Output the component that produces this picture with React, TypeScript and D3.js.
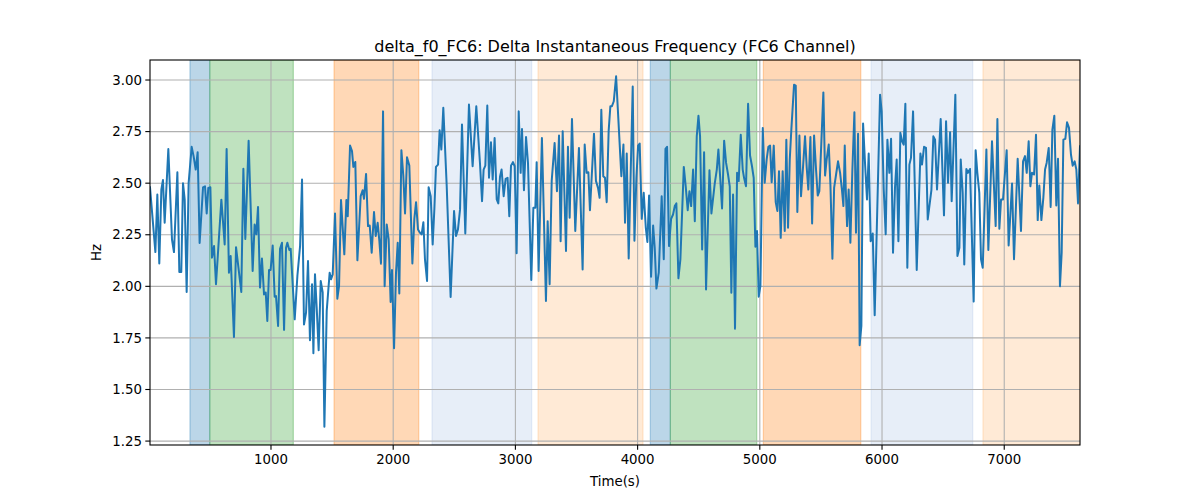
import React from "react";
import * as d3 from "d3";

const TITLE = "delta_f0_FC6: Delta Instantaneous Frequency (FC6 Channel)";
const X_LABEL = "Time(s)";
const Y_LABEL = "Hz";
const X_TICKS = [1000, 2000, 3000, 4000, 5000, 6000, 7000];
const Y_TICKS = [1.25, 1.5, 1.75, 2.0, 2.25, 2.5, 2.75, 3.0];
const X_DOMAIN = [10, 7620];
const Y_DOMAIN = [1.231, 3.097];

// shaded segments: [start, end, colour]
const BAND_START = [337, 499, 1516, 2318, 3185, 4104, 4268, 5029, 5911, 6826];
const BAND_END = [499, 1183, 2209, 3133, 4044, 4268, 4975, 5826, 6742, 7620];
const BAND_COLOR = ["#1f77b4", "#2ca02c", "#ff7f0e", "#aec7e8", "#ffbb78", "#1f77b4", "#2ca02c", "#ff7f0e", "#aec7e8", "#ffbb78"];

const TIMES = [
  10, 54, 70, 86, 103, 116, 130, 160, 190, 206, 234, 250, 266, 280, 294, 310, 326, 351, 367, 384, 400, 416, 444, 460, 474, 487, 504, 517, 534, 550, 594, 621, 637, 656, 670, 697, 714, 757, 774, 790, 817, 850, 866, 880, 894, 910, 926, 943,
  957, 970, 984, 997, 1014, 1030, 1041, 1058, 1074, 1090, 1107, 1123, 1134, 1150, 1161, 1194, 1216, 1238, 1254, 1270, 1287, 1303, 1319, 1336, 1347, 1360, 1374, 1390, 1407, 1423, 1437, 1456, 1480, 1491, 1505, 1524, 1543, 1557, 1573, 1600, 1617, 1628, 1647, 1663, 1674, 1690, 1707, 1734, 1750, 1761, 1778, 1794, 1808, 1824, 1843, 1857, 1873, 1887, 1900,
  1917, 1930, 1947, 1963, 1979, 1990, 2007, 2023, 2037, 2050, 2067, 2083, 2097, 2113, 2132, 2157, 2173, 2187, 2203, 2219, 2233, 2247, 2260, 2277, 2290, 2307, 2323, 2337, 2350, 2367, 2380, 2394, 2410, 2438, 2470, 2498, 2514, 2530, 2547, 2563, 2590, 2620, 2650, 2680, 2710, 2727, 2740, 2754, 2770, 2784, 2800, 2814, 2830, 2847,
  2860, 2874, 2887, 2904, 2920, 2936, 2950, 2964, 2980, 2994, 3010, 3027, 3043, 3054, 3070, 3087, 3103, 3130, 3147, 3163, 3174, 3190, 3217, 3250, 3264, 3280, 3297, 3321, 3340, 3357, 3370, 3387, 3414, 3430, 3444, 3463, 3490, 3520, 3550, 3567, 3583, 3597, 3610, 3643, 3659, 3676, 3689, 3703, 3719, 3733, 3747, 3763, 3777, 3790,
  3805, 3824, 3867, 3884, 3897, 3911, 3927, 3960, 3974, 3990, 4004, 4017, 4034, 4050, 4067, 4080, 4094, 4110, 4127, 4140, 4154, 4173, 4197, 4214, 4228, 4241, 4257, 4274, 4290, 4304, 4317, 4334, 4350, 4378, 4394, 4410, 4424, 4438, 4454, 4468, 4484, 4498, 4511, 4528, 4544, 4560, 4588, 4604, 4631, 4648, 4661, 4675, 4691, 4708, 4724, 4740,
  4754, 4767, 4781, 4797, 4814, 4827, 4844, 4860, 4871, 4887, 4904, 4920, 4936, 4950, 4964, 4977, 4991, 5005, 5024, 5040, 5056, 5070, 5084, 5097, 5114, 5130, 5144, 5157, 5171, 5187, 5204, 5217, 5231, 5245, 5258, 5280, 5294, 5307, 5324, 5337, 5354, 5370, 5384, 5397, 5414, 5428, 5444, 5460, 5474, 5487, 5504, 5520, 5534, 5547, 5564, 5578, 5594, 5608, 5624, 5640, 5657, 5673, 5684, 5695,
  5703, 5714, 5727, 5741, 5757, 5774, 5787, 5804, 5817, 5831, 5845, 5861, 5877, 5891, 5907, 5924, 5940, 5984, 5997, 6014, 6030, 6044, 6060, 6074, 6090, 6106, 6120, 6134, 6150, 6164, 6177, 6191, 6207, 6224, 6237, 6254, 6284, 6314, 6327, 6344, 6360, 6374, 6404, 6420, 6434, 6450, 6480, 6507, 6524, 6540, 6557, 6570, 6600, 6617, 6633, 6644,
  6660, 6673, 6690, 6703, 6720, 6750, 6766, 6780, 6796, 6810, 6824, 6854, 6870, 6900, 6930, 6944, 6960, 6974, 6990, 7020, 7036, 7064, 7080, 7110, 7137, 7154, 7170, 7184, 7200, 7214, 7227, 7244, 7260, 7274, 7287, 7304, 7320, 7334, 7347, 7364, 7380, 7394, 7410, 7426, 7440, 7456, 7470, 7484, 7500, 7514, 7530, 7546, 7560, 7576, 7590, 7604, 7620,
];

const HZ = [
  2.48, 2.166, 2.445, 2.111, 2.47, 2.515, 2.308, 2.666, 2.227, 2.166, 2.553, 2.069, 2.069, 2.5, 2.42, 1.973, 2.5, 2.676, 2.63, 2.566, 2.65, 2.21, 2.48, 2.485, 2.353, 2.477, 2.48, 2.139, 2.195, 2.01, 2.42, 2.203, 2.666, 2.066, 2.147, 1.755, 2.19, 1.973, 2.57, 2.23, 2.706, 2.074, 2.3, 2.252, 2.385, 1.994, 2.135, 1.961,
  1.97, 1.832, 2.079, 2.079, 2.198, 1.95, 1.953, 1.808, 2.182, 2.211, 1.789, 2.187, 2.211, 2.176, 2.182, 1.84, 2.05, 2.195, 2.518, 1.815, 1.873, 2.123, 1.739, 2.01, 1.676, 2.058, 1.897, 1.69, 2.026, 1.97, 1.32, 1.881, 2.066, 2.034, 2.058, 2.353, 1.94, 2.002, 2.418, 2.155, 2.418, 2.34, 2.682, 2.655, 2.579, 2.603, 2.126, 2.437, 2.466, 2.424, 2.545, 2.292, 2.295, 2.163, 2.36, 2.244, 2.308, 2.219, 2.11,
  2.848, 2.0, 2.3, 2.227, 1.924, 2.079, 1.7, 2.066, 2.211, 1.965, 2.66, 2.534, 2.353, 2.626, 2.585, 2.111, 2.327, 2.408, 2.276, 2.26, 2.252, 2.311, 2.131, 2.026, 2.48, 2.437, 2.203, 2.376, 2.579, 2.59, 2.756, 2.663, 2.865, 2.485, 1.948, 2.365, 2.244, 2.276, 2.373, 2.784, 2.256, 2.881, 2.582, 2.873, 2.598, 2.413, 2.566, 2.585, 2.876, 2.526, 2.698, 2.518, 2.719, 2.421,
  2.402, 2.531, 2.566, 2.437, 2.521, 2.526, 2.34, 2.585, 2.602, 2.582, 2.16, 2.848, 2.55, 2.763, 2.466, 2.724, 2.598, 2.031, 2.381, 2.381, 2.602, 2.074, 2.719, 1.929, 2.316, 2.01, 2.511, 2.695, 2.461, 2.731, 2.219, 2.752, 2.171, 2.676, 2.332, 2.811, 2.268, 2.671, 2.082, 2.687, 2.55, 2.553, 2.369, 2.74, 2.511, 2.477, 2.429, 2.856, 2.534, 2.526, 2.408, 2.752, 2.873, 2.873,
  2.897, 3.018, 2.534, 2.687, 2.308, 2.644, 2.135, 2.969, 2.221, 2.526, 2.682, 2.692, 2.327, 2.453, 2.284, 2.215, 2.44, 2.047, 2.295, 2.187, 1.989, 2.066, 2.437, 2.131, 2.666, 2.676, 2.195, 2.327, 2.348, 2.389, 2.402, 2.039, 2.131, 2.579, 2.482, 2.369, 2.461, 2.389, 2.566, 2.316, 2.727, 2.827, 2.727, 2.179, 2.65, 1.985, 2.563, 2.353, 2.498, 2.566, 2.663, 2.534, 2.377, 2.706, 2.598, 2.542,
  2.485, 1.969, 2.445, 1.795, 2.55, 2.51, 2.735, 2.566, 2.526, 2.485, 2.885, 2.634, 2.582, 2.526, 2.192, 2.268, 1.95, 2.002, 2.768, 2.502, 2.615, 2.676, 2.682, 2.505, 2.682, 2.408, 2.365, 2.558, 2.235, 2.558, 2.268, 2.711, 2.284, 2.615, 2.76, 2.977, 2.973, 2.36, 2.731, 2.437, 2.582, 2.727, 2.574, 2.469, 2.724, 2.305, 2.731, 2.566, 2.44, 2.461, 2.706, 2.94, 2.537, 2.615, 2.687, 2.489, 2.134, 2.477, 2.542, 2.606, 2.55, 2.461, 2.389, 2.682,
  2.477, 2.292, 2.469, 2.211, 2.558, 2.844, 2.26, 2.74, 1.715, 1.808, 2.789, 2.595, 2.421, 2.644, 2.219, 2.256, 1.86, 2.929, 2.848, 2.469, 2.252, 2.711, 2.55, 2.715, 2.163, 2.477, 2.615, 2.219, 2.744, 2.703, 2.687, 2.885, 2.09, 2.59, 2.623, 2.848, 2.079, 2.644, 2.59, 2.676, 2.671, 2.324, 2.466, 2.727, 2.711, 2.469, 2.811, 2.344, 2.8, 2.502, 2.747, 2.413, 2.929, 2.147, 2.187, 2.615,
  2.453, 2.106, 2.569, 2.55, 2.569, 1.926, 2.66, 2.55, 2.453, 2.131, 2.09, 2.663, 2.176, 2.703, 2.292, 2.811, 2.279, 2.421, 2.421, 2.66, 2.198, 2.498, 2.131, 2.618, 2.268, 2.606, 2.631, 2.55, 2.703, 2.485, 2.55, 2.542, 2.735, 2.321, 2.489, 2.321, 2.429, 2.566, 2.598, 2.671, 2.385, 2.76, 2.827, 2.392, 2.618, 2.0, 2.163, 2.711, 2.715, 2.795, 2.768, 2.639, 2.585, 2.606, 2.566, 2.402, 2.679,
];

const W = 1200;
const H = 500;
const M = { left: 150, right: 1080, top: 60, bottom: 445 };
const FONT = "DejaVu Sans, sans-serif";

export default function App() {
  const x = d3.scaleLinear().domain(X_DOMAIN).range([M.left, M.right]);
  const y = d3.scaleLinear().domain(Y_DOMAIN).range([M.bottom, M.top]);
  const pts: [number, number][] = TIMES.map((t, i) => [t, HZ[i]]);
  const line = d3
    .line<[number, number]>()
    .x((d) => x(d[0]))
    .y((d) => y(d[1]));
  const fmt = d3.format(".2f");

  return (
    <div style={{ position: "fixed", left: 0, top: 0 }}>
      <svg width={W} height={H} style={{ display: "block", background: "#fff" }}>
        <defs>
          <clipPath id="plotclip">
            <rect x={M.left} y={M.top} width={M.right - M.left} height={M.bottom - M.top} />
          </clipPath>
        </defs>
        <g clipPath="url(#plotclip)">
          {BAND_START.map((s, i) => (
            <rect
              key={"b" + i}
              x={x(s)}
              y={M.top}
              width={x(BAND_END[i]) - x(s)}
              height={M.bottom - M.top}
              fill={BAND_COLOR[i]}
              fillOpacity={0.3}
              stroke={BAND_COLOR[i]}
              strokeOpacity={0.3}
              strokeWidth={1.3}
            />
          ))}
        </g>
        {/* grid */}
        {X_TICKS.map((t) => (
          <line key={"gx" + t} x1={x(t)} x2={x(t)} y1={M.top} y2={M.bottom} stroke="#b0b0b0" strokeWidth={1.1} />
        ))}
        {Y_TICKS.map((t) => (
          <line key={"gy" + t} x1={M.left} x2={M.right} y1={y(t)} y2={y(t)} stroke="#b0b0b0" strokeWidth={1.1} />
        ))}
        <g clipPath="url(#plotclip)">
          <path d={line(pts) || ""} fill="none" stroke="#1f77b4" strokeWidth={2} strokeLinejoin="round" strokeLinecap="square" />
        </g>
        {/* spines */}
        <rect x={M.left} y={M.top} width={M.right - M.left} height={M.bottom - M.top} fill="none" stroke="#000" strokeWidth={1.1} />
        {/* x ticks */}
        {X_TICKS.map((t) => (
          <g key={"tx" + t}>
            <line x1={x(t)} x2={x(t)} y1={M.bottom} y2={M.bottom + 4.7} stroke="#000" strokeWidth={1.1} />
            <text x={x(t)} y={M.bottom + 19} textAnchor="middle" fontFamily={FONT} fontSize={13.33} fill="#000">
              {t}
            </text>
          </g>
        ))}
        {/* y ticks */}
        {Y_TICKS.map((t) => (
          <g key={"ty" + t}>
            <line x1={M.left - 4.7} x2={M.left} y1={y(t)} y2={y(t)} stroke="#000" strokeWidth={1.1} />
            <text x={M.left - 8} y={y(t)} dy="0.35em" textAnchor="end" fontFamily={FONT} fontSize={13.33} fill="#000">
              {fmt(t)}
            </text>
          </g>
        ))}
        <text x={(M.left + M.right) / 2} y={52} textAnchor="middle" fontFamily={FONT} fontSize={16} fill="#000">
          {TITLE}
        </text>
        <text x={(M.left + M.right) / 2} y={486} textAnchor="middle" fontFamily={FONT} fontSize={13.33} fill="#000">
          {X_LABEL}
        </text>
        <text
          transform={`translate(101, ${(M.top + M.bottom) / 2}) rotate(-90)`}
          textAnchor="middle"
          fontFamily={FONT}
          fontSize={13.33}
          fill="#000"
        >
          {Y_LABEL}
        </text>
      </svg>
    </div>
  );
}
